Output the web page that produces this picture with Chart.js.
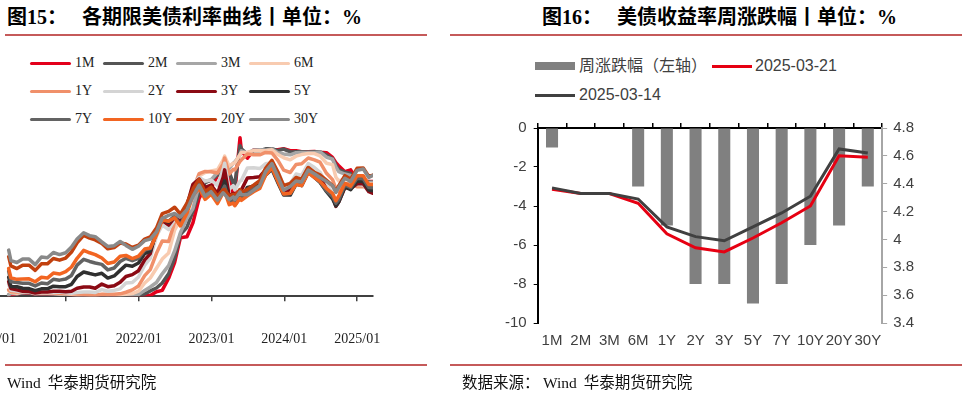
<!DOCTYPE html>
<html lang="zh-CN">
<head>
<meta charset="UTF-8">
<title>美债利率</title>
<script src="https://cdn.jsdelivr.net/npm/chart.js"></script>
<style>
  html, body { margin: 0; padding: 0; }
  body {
    width: 967px; height: 394px; position: relative; overflow: hidden;
    background: #fff; font-family: "Noto Sans CJK SC", sans-serif; color: #000;
  }
  .title {
    position: absolute; top: 4px; font-size: 20px; font-weight: bold; line-height: 26px;
    font-family: "Liberation Serif", "Noto Sans CJK SC", serif; white-space: nowrap;
  }
  .title .gap { display: inline-block; width: 15px; }
  .rule { position: absolute; height: 2px; background: #C55A5A; }
  .src { position: absolute; top: 370px; font-size: 15.5px; line-height: 22px; white-space: nowrap; color: #111; }
  .src .en { font-family: "Liberation Serif", serif; }
  .box { position: absolute; }
  .lg15 { position: absolute; height: 16px; font-family: "Liberation Serif", serif; font-size: 14px; line-height: 16px; color: #222; }
  .lg15 i { position: absolute; left: 0; top: 6.5px; width: 41px; height: 3px; border-radius: 1.5px; }
  .lg15 span { position: absolute; left: 45px; top: 0; }
  .lg16 { position: absolute; font-family: "Liberation Sans", "Noto Sans CJK SC", sans-serif; font-size: 16px; line-height: 20px; color: #404040; white-space: nowrap; }
  .sw { position: absolute; }
</style>
</head>
<body>
  <!-- 图15 -->
  <div class="title" style="left:7px">图15：<span class="gap"></span>各期限美债利率曲线丨单位：%</div>
  <div class="rule" style="left:5px; top:34px; width:422px"></div>
  <div id="legend15"></div>
  <div class="box" id="box15"><canvas id="c15"></canvas></div>
  <div class="rule" style="left:5px; top:364px; width:422px"></div>
  <div class="src" style="left:7px"><span class="en">Wind</span>&nbsp; 华泰期货研究院</div>

  <!-- 图16 -->
  <div class="title" style="left:542px">图16：<span class="gap"></span>美债收益率周涨跌幅丨单位：%</div>
  <div class="rule" style="left:450px; top:34px; width:512px"></div>
  <div class="sw" style="left:535px; top:62px; width:40px; height:8px; background:#808080"></div>
  <div class="lg16" style="left:579px; top:56px">周涨跌幅（左轴）</div>
  <div class="sw" style="left:712px; top:64.5px; width:40px; height:3px; background:#E60012"></div>
  <div class="lg16" style="left:755px; top:56px">2025-03-21</div>
  <div class="sw" style="left:535px; top:93.5px; width:40px; height:3px; background:#404040"></div>
  <div class="lg16" style="left:579px; top:85px">2025-03-14</div>
  <div class="box" id="box16"><canvas id="c16"></canvas></div>
  <div class="rule" style="left:450px; top:364px; width:512px"></div>
  <div class="src" style="left:462px">数据来源：&nbsp;<span class="en">Wind</span>&nbsp; 华泰期货研究院</div>

<script>
// ---- 图15 数据：各期限美债收益率（%）
const dates = [
  '2020-03-20','2020-03-31','2020-04-30','2020-05-29','2020-06-30','2020-07-31','2020-08-31','2020-09-30','2020-10-30','2020-11-30','2020-12-31',
  '2021-01-29','2021-02-26','2021-03-31','2021-04-30','2021-05-28','2021-06-30','2021-07-30','2021-08-31','2021-09-30','2021-10-29','2021-11-30','2021-12-31',
  '2022-01-31','2022-02-28','2022-03-31','2022-04-29','2022-05-31','2022-06-30','2022-07-29','2022-08-31','2022-09-30','2022-10-31','2022-11-30','2022-12-30',
  '2023-01-31','2023-02-28','2023-03-08','2023-03-31','2023-04-20','2023-04-28','2023-05-24','2023-05-31','2023-06-30','2023-07-31','2023-08-31','2023-09-29','2023-10-31','2023-11-30','2023-12-29',
  '2024-01-31','2024-02-29','2024-03-28','2024-04-30','2024-05-31','2024-06-28','2024-07-31','2024-08-30','2024-09-16','2024-09-30','2024-10-31','2024-11-29','2024-12-31',
  '2025-01-31','2025-02-28','2025-03-21'
];
const y1M = [0.04,0.05,0.09,0.12,0.13,0.08,0.08,0.08,0.09,0.08,0.08,
  0.05,0.04,0.01,0.01,0.01,0.05,0.05,0.04,0.07,0.07,0.05,0.06,
  0.03,0.03,0.17,0.22,0.68,1.28,2.22,2.26,2.79,3.72,4.12,4.12,
  4.58,4.66,4.80,4.74,3.85,3.95,6.02,5.52,5.24,5.55,5.56,5.55,5.56,5.56,5.60,
  5.53,5.53,5.49,5.49,5.50,5.47,5.45,5.27,5.07,4.96,4.73,4.80,4.37,
  4.36,4.36,4.36];
const y2M = [0.05,0.12,0.09,0.13,0.14,0.09,0.10,0.09,0.09,0.08,0.09,
  0.05,0.04,0.02,0.01,0.02,0.05,0.05,0.05,0.05,0.05,0.05,0.05,
  0.08,0.20,0.31,0.50,0.85,1.45,2.34,2.62,3.23,3.93,4.31,4.41,
  4.61,4.80,4.88,4.71,4.30,4.25,5.72,5.60,5.39,5.53,5.53,5.60,5.60,5.53,5.59,
  5.48,5.49,5.49,5.48,5.49,5.49,5.36,5.22,4.98,4.81,4.71,4.66,4.37,
  4.33,4.35,4.33];
const y3M = [0.05,0.11,0.09,0.14,0.16,0.09,0.11,0.10,0.09,0.08,0.09,
  0.06,0.04,0.03,0.02,0.02,0.05,0.05,0.04,0.04,0.05,0.05,0.06,
  0.22,0.35,0.52,0.85,1.16,1.72,2.41,2.96,3.33,4.22,4.37,4.42,
  4.70,4.88,5.06,4.85,5.05,5.10,5.37,5.52,5.43,5.55,5.56,5.55,5.59,5.45,5.40,
  5.37,5.45,5.46,5.46,5.46,5.48,5.28,5.21,4.90,4.73,4.64,4.59,4.37,
  4.31,4.32,4.33];
const y6M = [0.20,0.15,0.11,0.17,0.18,0.11,0.13,0.11,0.11,0.09,0.09,
  0.07,0.05,0.05,0.04,0.04,0.06,0.05,0.06,0.05,0.07,0.10,0.19,
  0.50,0.69,1.06,1.41,1.64,2.51,2.91,3.32,3.92,4.57,4.70,4.76,
  4.80,5.17,5.32,4.94,5.05,5.06,5.38,5.46,5.47,5.53,5.53,5.53,5.56,5.38,5.26,
  5.18,5.32,5.38,5.42,5.42,5.33,5.05,5.00,4.52,4.38,4.46,4.42,4.24,
  4.27,4.27,4.26];
const y1Y = [0.25,0.17,0.16,0.17,0.16,0.12,0.12,0.12,0.13,0.11,0.10,
  0.10,0.08,0.07,0.05,0.05,0.07,0.07,0.07,0.09,0.15,0.24,0.39,
  0.78,1.01,1.63,2.10,2.08,2.80,2.98,3.50,4.05,4.66,4.74,4.73,
  4.68,5.02,5.25,4.64,4.82,4.80,5.12,5.18,5.40,5.37,5.37,5.46,5.44,5.16,4.79,
  4.70,5.00,5.03,5.25,5.18,5.09,4.67,4.43,4.08,3.98,4.27,4.30,4.16,
  4.17,4.08,4.04];
const y2Y = [0.45,0.23,0.20,0.16,0.16,0.11,0.14,0.13,0.14,0.16,0.13,
  0.11,0.14,0.16,0.16,0.14,0.25,0.19,0.22,0.28,0.50,0.52,0.73,
  1.18,1.44,2.28,2.70,2.53,2.92,2.89,3.45,4.22,4.51,4.38,4.41,
  4.21,4.81,5.05,4.06,4.20,4.04,4.37,4.40,4.87,4.88,4.85,5.03,5.07,4.73,4.23,
  4.27,4.64,4.59,5.04,4.89,4.71,4.26,3.91,3.55,3.66,4.17,4.15,4.25,
  4.22,3.99,3.94];
const y3Y = [0.55,0.29,0.24,0.19,0.18,0.12,0.16,0.16,0.19,0.19,0.17,
  0.19,0.30,0.35,0.35,0.30,0.46,0.36,0.40,0.53,0.75,0.82,0.97,
  1.38,1.62,2.51,2.87,2.70,2.99,2.83,3.46,4.25,4.45,4.13,4.22,
  3.90,4.51,4.80,3.81,3.90,3.76,4.04,4.04,4.49,4.51,4.54,4.80,4.90,4.49,4.01,
  4.02,4.44,4.40,4.87,4.66,4.52,4.06,3.78,3.41,3.58,4.13,4.09,4.27,
  4.27,3.97,3.91];
const y5Y = [0.72,0.37,0.36,0.30,0.29,0.21,0.28,0.28,0.38,0.36,0.36,
  0.45,0.75,0.92,0.86,0.81,0.87,0.69,0.77,0.98,1.18,1.14,1.26,
  1.62,1.71,2.42,2.92,2.81,3.01,2.70,3.35,4.06,4.27,3.82,3.99,
  3.63,4.18,4.38,3.60,3.63,3.51,3.76,3.74,4.13,4.18,4.23,4.60,4.82,4.31,3.84,
  3.84,4.26,4.21,4.72,4.52,4.33,3.97,3.70,3.43,3.58,4.15,4.05,4.38,
  4.36,4.03,4.01];
const y7Y = [0.95,0.55,0.52,0.49,0.49,0.39,0.50,0.47,0.64,0.61,0.65,
  0.79,1.18,1.40,1.32,1.26,1.21,1.00,1.07,1.32,1.44,1.35,1.44,
  1.75,1.81,2.40,2.94,2.85,3.04,2.70,3.27,3.97,4.18,3.75,3.96,
  3.59,4.07,4.18,3.55,3.60,3.46,3.74,3.71,3.97,4.08,4.20,4.61,4.89,4.38,3.88,
  3.90,4.27,4.20,4.71,4.51,4.33,4.00,3.79,3.53,3.67,4.23,4.12,4.48,
  4.46,4.13,4.12];
const y10Y = [1.05,0.70,0.64,0.65,0.66,0.55,0.72,0.69,0.88,0.84,0.93,
  1.11,1.44,1.74,1.65,1.58,1.45,1.24,1.30,1.52,1.55,1.43,1.52,
  1.79,1.83,2.32,2.89,2.85,2.98,2.67,3.15,3.83,4.10,3.68,3.88,
  3.52,3.92,3.98,3.48,3.54,3.44,3.72,3.64,3.81,3.97,4.09,4.59,4.88,4.37,3.88,
  3.91,4.25,4.20,4.69,4.51,4.36,4.09,3.91,3.63,3.81,4.29,4.18,4.58,
  4.58,4.24,4.24];
const y20Y = [1.50,1.15,1.05,1.18,1.18,0.98,1.23,1.23,1.43,1.37,1.45,
  1.68,2.03,2.31,2.21,2.14,2.00,1.80,1.85,2.02,1.98,1.85,1.94,
  2.17,2.25,2.59,3.14,3.22,3.38,3.12,3.53,4.08,4.44,3.97,4.14,
  3.80,4.04,4.05,3.81,3.87,3.81,4.05,3.95,4.06,4.22,4.39,4.86,5.16,4.72,4.20,
  4.29,4.51,4.45,4.89,4.71,4.61,4.40,4.20,3.99,4.19,4.58,4.45,4.86,
  4.87,4.55,4.60];
const y30Y = [1.75,1.35,1.28,1.41,1.41,1.20,1.49,1.46,1.66,1.58,1.65,
  1.87,2.17,2.41,2.30,2.26,2.06,1.89,1.92,2.08,1.93,1.78,1.90,
  2.11,2.17,2.44,2.96,3.07,3.14,3.01,3.29,3.79,4.22,3.80,3.97,
  3.65,3.93,3.87,3.67,3.77,3.67,3.96,3.86,3.85,4.02,4.20,4.73,5.04,4.54,4.03,
  4.17,4.38,4.34,4.79,4.65,4.51,4.36,4.20,3.94,4.14,4.48,4.36,4.78,
  4.83,4.51,4.59];

const seriesNames = ['1M','2M','3M','6M','1Y','2Y','3Y','5Y','7Y','10Y','20Y','30Y'];
const seriesValues = [y1M, y2M, y3M, y6M, y1Y, y2Y, y3Y, y5Y, y7Y, y10Y, y20Y, y30Y];
const yearTicks = [2020, 2021, 2022, 2023, 2024, 2025];

// ---- 图16 数据
const tenors = ['1M','2M','3M','6M','1Y','2Y','3Y','5Y','7Y','10Y','20Y','30Y'];
const weeklyChange = [-1, 0, 0, -3, -5, -8, -8, -9, -8, -6, -5, -3];   // bp
const curve0321 = [4.36, 4.33, 4.33, 4.26, 4.04, 3.94, 3.91, 4.01, 4.12, 4.24, 4.60, 4.59];
const curve0314 = [4.37, 4.33, 4.33, 4.29, 4.09, 4.02, 3.99, 4.09, 4.19, 4.31, 4.65, 4.62];
const leftAxisTicks = [0, -2, -4, -6, -8, -10];
const rightAxisTicks = [4.8, 4.6, 4.4, 4.2, 4.0, 3.8, 3.6, 3.4];

// 样式
const seriesColors = ['#E3001B','#555555','#A6A6A6','#F8CBB0','#F0906A','#D4D4D4',
                      '#8B0A14','#303030','#636363','#F26522','#C2410F','#898989'];

// 图15 图例
const legendBox = document.getElementById('legend15');
seriesNames.forEach((name, i) => {
  const d = document.createElement('div');
  d.className = 'lg15';
  d.style.left = (30 + (i % 4) * 73) + 'px';
  d.style.top = (55 + Math.floor(i / 4) * 28) + 'px';
  d.innerHTML = '<i style="background:' + seriesColors[i] + '"></i><span>' + name + '</span>';
  legendBox.appendChild(d);
});

const box15 = document.getElementById('box15');
box15.style.cssText = 'left:-60px; top:125px; width:468px; height:253px;';
const box16 = document.getElementById('box16');
box16.style.cssText = 'left:498px; top:106px; width:422px; height:245px;';

const times = dates.map(d => Date.parse(d + 'T00:00:00Z'));

new Chart(document.getElementById('c15'), {
  type: 'line',
  data: {
    datasets: seriesNames.map((name, i) => ({
      label: name,
      data: seriesValues[i].map((v, k) => ({ x: times[k], y: v })),
      borderColor: seriesColors[i],
      backgroundColor: seriesColors[i],
      borderWidth: 3.5,
      borderJoinStyle: 'round',
      borderCapStyle: 'round',
      pointRadius: 0,
      tension: 0,
      order: seriesNames.length - 1 - i
    }))
  },
  options: {
    responsive: true,
    maintainAspectRatio: false,
    animation: false,
    layout: { padding: { top: 8, left: 0, right: 0, bottom: 0 } },
    plugins: { legend: { display: false }, tooltip: { enabled: false } },
    scales: {
      x: {
        type: 'linear',
        min: Date.UTC(yearTicks[0], 0, 1),
        max: times[times.length - 1],
        afterBuildTicks: scale => {
          scale.ticks = yearTicks.map(y => ({ value: Date.UTC(y, 0, 1) }));
        },
        ticks: {
          autoSkip: false, maxRotation: 0, padding: 30, color: '#222',
          font: { family: 'Liberation Serif', size: 14 },
          callback: v => new Date(v).getUTCFullYear() + '/01'
        },
        grid: { drawOnChartArea: false, drawTicks: true, tickLength: 5, color: '#404040', lineWidth: 1.5 },
        border: { color: '#404040', width: 2 }
      },
      y: { display: false, min: 0, max: 6.2 }
    }
  }
});

const axisFont = { family: 'Liberation Sans', size: 15 };

new Chart(document.getElementById('c16'), {
  type: 'bar',
  data: {
    labels: tenors,
    datasets: [
      { type: 'line', label: '2025-03-14', data: curve0314, yAxisID: 'yR',
        borderColor: '#404040', borderWidth: 3, pointRadius: 0, tension: 0, order: 0 },
      { type: 'line', label: '2025-03-21', data: curve0321, yAxisID: 'yR',
        borderColor: '#E60012', borderWidth: 3, pointRadius: 0, tension: 0, order: 1 },
      { type: 'bar', label: '周涨跌幅（左轴）', data: weeklyChange, yAxisID: 'yL',
        backgroundColor: '#808080', barPercentage: 0.42, categoryPercentage: 1, order: 2 }
    ]
  },
  options: {
    responsive: true,
    maintainAspectRatio: false,
    animation: false,
    layout: { padding: { top: 17, left: 0, right: 0, bottom: 0 } },
    plugins: { legend: { display: false }, tooltip: { enabled: false } },
    scales: {
      x: {
        position: 'bottom', offset: true,
        grid: { display: false }, border: { display: false },
        ticks: { padding: 1, color: '#404040', font: axisFont, maxRotation: 0, autoSkip: false }
      },
      xTop: {
        type: 'category', position: 'top', offset: true,
        grid: { offset: true, drawOnChartArea: false, drawTicks: true, tickLength: 5, color: '#000', lineWidth: 1.5 },
        border: { color: '#000', width: 2 },
        ticks: { display: false }
      },
      yL: {
        position: 'left',
        min: Math.min(...leftAxisTicks), max: Math.max(...leftAxisTicks),
        ticks: { stepSize: leftAxisTicks[0] - leftAxisTicks[1], padding: 7, color: '#404040', font: axisFont },
        grid: { drawOnChartArea: false, tickLength: 4, color: '#000' },
        border: { color: '#000', width: 2 }
      },
      yR: {
        position: 'right',
        min: Math.min(...rightAxisTicks), max: Math.max(...rightAxisTicks),
        afterBuildTicks: scale => { scale.ticks = rightAxisTicks.map(v => ({ value: v })); },
        ticks: { padding: 6, color: '#404040', font: axisFont, callback: v => String(+v.toFixed(1)) },
        grid: { drawOnChartArea: false, tickLength: 5, color: '#A6A6A6' },
        border: { color: '#A6A6A6', width: 2 }
      }
    }
  }
});
</script>
</body>
</html>
